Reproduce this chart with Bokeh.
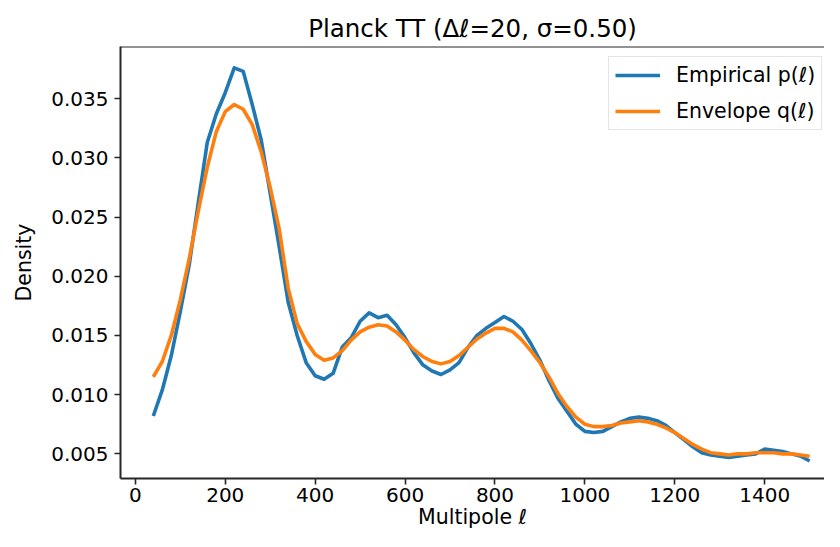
from bokeh.plotting import figure
from bokeh.models import Range1d, FixedTicker, NumeralTickFormatter, Legend, LegendItem, Span
from bokeh.embed import file_html
from bokeh.resources import INLINE

# Multipole bins (Δℓ = 20)
ell = [40, 60, 80, 100, 120, 140, 160, 180, 200, 220, 240, 260, 280, 300, 320, 340,
       360, 380, 400, 420, 440, 460, 480, 500, 520, 540, 560, 580, 600, 620, 640, 660,
       680, 700, 720, 740, 760, 780, 800, 820, 840, 860, 880, 900, 920, 940, 960, 980,
       1000, 1020, 1040, 1060, 1080, 1100, 1120, 1140, 1160, 1180, 1200, 1220, 1240,
       1260, 1280, 1300, 1320, 1340, 1360, 1380, 1400, 1420, 1440, 1460, 1480, 1500]

empirical = [0.0082, 0.0104, 0.0133, 0.0170, 0.0210, 0.0262, 0.0313, 0.0337, 0.0355,
             0.0376, 0.0373, 0.0345, 0.0315, 0.0270, 0.0225, 0.0178, 0.0150, 0.0127,
             0.0116, 0.0113, 0.0118, 0.0140, 0.0148, 0.0162, 0.0169, 0.0165, 0.0167,
             0.0159, 0.0148, 0.0135, 0.0125, 0.0120, 0.0117, 0.0121, 0.0127, 0.0140,
             0.0150, 0.0156, 0.0161, 0.0166, 0.0162, 0.0155, 0.0143, 0.0129, 0.0112,
             0.0097, 0.0086, 0.0075, 0.0069, 0.0068, 0.0069, 0.0073, 0.0077, 0.0080,
             0.0081, 0.0080, 0.0078, 0.0074, 0.0068, 0.0062, 0.0056, 0.0051, 0.0049,
             0.0048, 0.0047, 0.0048, 0.0049, 0.0050, 0.0054, 0.0053, 0.0052, 0.0050,
             0.0048, 0.0044]

envelope = [0.0115, 0.0128, 0.0150, 0.0180, 0.0215, 0.0255, 0.0292, 0.0322, 0.0339,
            0.0345, 0.0341, 0.0328, 0.0305, 0.0275, 0.0240, 0.0190, 0.0160, 0.0145,
            0.0134, 0.0129, 0.0131, 0.0137, 0.0146, 0.0153, 0.0157, 0.0159, 0.0158,
            0.0153, 0.0146, 0.0138, 0.0132, 0.0128, 0.0126, 0.0128, 0.0133, 0.0140,
            0.0147, 0.0152, 0.0156, 0.0156, 0.0153, 0.0146, 0.0137, 0.0127, 0.0115,
            0.0101, 0.0090, 0.0081, 0.0075, 0.0073, 0.0073, 0.0074, 0.0076, 0.0077,
            0.0078, 0.0077, 0.0075, 0.0072, 0.0068, 0.0063, 0.0058, 0.0054, 0.0051,
            0.0050, 0.0049, 0.0050, 0.0050, 0.0051, 0.0051, 0.0051, 0.0050, 0.0050,
            0.0049, 0.0048]

x_ticks = [0, 200, 400, 600, 800, 1000, 1200, 1400]
y_ticks = [0.005, 0.010, 0.015, 0.020, 0.025, 0.030, 0.035]

FONT = "DejaVu Sans"
SPINE = "#262626"
Y_TOP = 0.0394

p = figure(width=824, height=531, output_backend="svg", toolbar_location=None,
           x_range=Range1d(-33, 1533), y_range=Range1d(0.00292, Y_TOP),
           title="Planck TT (Δℓ=20, σ=0.50)",
           min_border_left=120, min_border_right=0, min_border_top=46, min_border_bottom=52)

p.title.text_font = FONT
p.title.text_font_size = "24.5px"
p.title.text_font_style = "normal"
p.title.align = "center"
p.title.text_color = "black"
p.title.standoff = 7

p.outline_line_color = None
p.grid.visible = False
p.background_fill_color = "white"
p.border_fill_color = "white"

for ax in (p.xaxis[0], p.yaxis[0]):
    ax.axis_line_color = SPINE
    ax.axis_line_width = 2
    ax.major_tick_line_color = SPINE
    ax.major_tick_line_width = 1.6
    ax.major_tick_out = 6
    ax.major_tick_in = 0
    ax.minor_tick_out = 0
    ax.minor_tick_in = 0
    ax.major_label_text_font = FONT
    ax.major_label_text_font_size = "20px"
    ax.major_label_text_color = "black"
    ax.axis_label_text_font = FONT
    ax.axis_label_text_font_size = "20.5px"
    ax.axis_label_text_font_style = "normal"
    ax.axis_label_text_color = "black"

p.xaxis.ticker = FixedTicker(ticks=x_ticks)
p.yaxis.ticker = FixedTicker(ticks=y_ticks)
p.yaxis.formatter = NumeralTickFormatter(format="0.000")
p.xaxis.axis_label = "Multipole ℓ"
p.yaxis.axis_label = "Density"
p.xaxis.major_label_standoff = 3
p.yaxis.major_label_standoff = 6
p.xaxis.axis_label_standoff = 0
p.yaxis.axis_label_standoff = 12

top_spine = Span(location=Y_TOP, dimension="width", line_color=SPINE, line_width=2)
p.add_layout(top_spine)

r1 = p.line(ell, empirical, line_color="#1f77b4", line_width=3.6, line_join="round")
r2 = p.line(ell, envelope, line_color="#ff7f0e", line_width=3.6, line_join="round")

legend = Legend(items=[LegendItem(label="Empirical p(ℓ)", renderers=[r1]),
                       LegendItem(label="Envelope q(ℓ)", renderers=[r2])],
                location=(488, 348))
legend.label_text_font = FONT
legend.label_text_font_size = "20.5px"
legend.label_text_color = "black"
legend.glyph_width = 45
legend.glyph_height = 22
legend.label_height = 22
legend.label_standoff = 16
legend.spacing = 12
legend.padding = 6
legend.margin = 0
legend.border_line_color = "#cccccc"
legend.border_line_width = 1
legend.background_fill_color = "white"
legend.background_fill_alpha = 0.8
p.add_layout(legend, "center")

open("out.html", "w").write(file_html(p, INLINE))
